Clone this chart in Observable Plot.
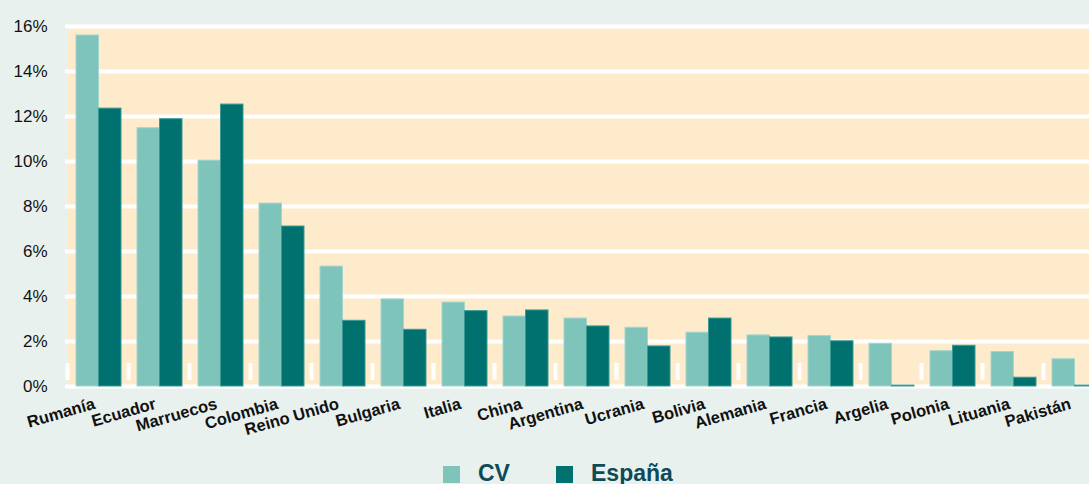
<!DOCTYPE html>
<html>
<head>
<meta charset="utf-8">
<script src="https://cdn.jsdelivr.net/npm/d3@7"></script>
<script src="https://cdn.jsdelivr.net/npm/@observablehq/plot@0.6"></script>
<style>
  html, body { margin: 0; padding: 0; background: #e9f1ee; }
  body { width: 1089px; height: 484px; overflow: hidden; font-family: "Liberation Sans", Arial, sans-serif; }
  #chart svg { overflow: hidden; display: block; }
  #legend { position: relative; height: 44px; }
  .sw { position: absolute; top: 26px; width: 17px; height: 17px; }
  .lb { position: absolute; top: 20px; font-weight: bold; font-size: 23px; color: #0e4a5a; line-height: 26px; }
</style>
</head>
<body>
<div id="chart"></div>
<div id="legend">
  <div class="sw" style="left:443px;background:#7fc4bb"></div>
  <div class="lb" style="left:478px">CV</div>
  <div class="sw" style="left:556px;background:#00716f"></div>
  <div class="lb" style="left:591px">España</div>
</div>
<script>
const countries = ["Rumanía","Ecuador","Marruecos","Colombia","Reino Unido","Bulgaria","Italia","China","Argentina","Ucrania","Bolivia","Alemania","Francia","Argelia","Polonia","Lituania","Pakistán"];
const cv =     [15.6, 11.48, 10.04, 8.13, 5.33, 3.87, 3.73, 3.11, 3.02, 2.61, 2.39, 2.27, 2.24, 1.90, 1.57, 1.53, 1.21];
const espana = [12.35, 11.88, 12.53, 7.11, 2.92, 2.52, 3.35, 3.38, 2.67, 1.78, 3.02, 2.18, 2.01, 0.04, 1.81, 0.39, 0.04];
const yTicks = [0, 2, 4, 6, 8, 10, 12, 14, 16];

const rows = countries.map((c, i) => ({country: c, cv: cv[i], es: espana[i]}));

const plot = Plot.plot({
  width: 1089,
  height: 440,
  marginLeft: 65,
  marginRight: 0,
  marginTop: 26,
  marginBottom: 54,
  style: {background: "transparent", fontFamily: "'Liberation Sans', Arial, sans-serif"},
  x: {type: "band", domain: countries, range: [67, 1104], padding: 0, axis: null},
  y: {domain: [0, 16], axis: null},
  marks: [
    Plot.frame({fill: "#fdebcc", stroke: null, insetLeft: 2, insetTop: 2}),
    Plot.gridY(yTicks, {stroke: "#ffffff", strokeWidth: 4, strokeOpacity: 1}),
    Plot.ruleX(rows, {x: "country", dx: -30.5, stroke: "#ffffff", strokeWidth: 4, insetTop: 337, insetBottom: 6}),
    Plot.barY(rows, {x: "country", y: "cv", fill: "#7fc4bb", stroke: "#a3d5ce", strokeWidth: 1, insetLeft: 9, insetRight: 29.5}),
    Plot.barY(rows, {x: "country", y: "es", fill: "#00716f", stroke: "#3a9a94", strokeWidth: 1, insetLeft: 31.5, insetRight: 7}),
    Plot.axisY(yTicks, {tickSize: 0, tickPadding: 18, tickFormat: d => d + "%", fontSize: 17, fill: "#111"}),
    Plot.text(rows, {x: "country", y: () => 0, text: "country", rotate: -16, textAnchor: "end", lineAnchor: "bottom", dx: -2, dy: 22, fontSize: 16.5, fontWeight: "bold", fill: "#111"})
  ]
});
document.getElementById("chart").appendChild(plot);
</script>
</body>
</html>
